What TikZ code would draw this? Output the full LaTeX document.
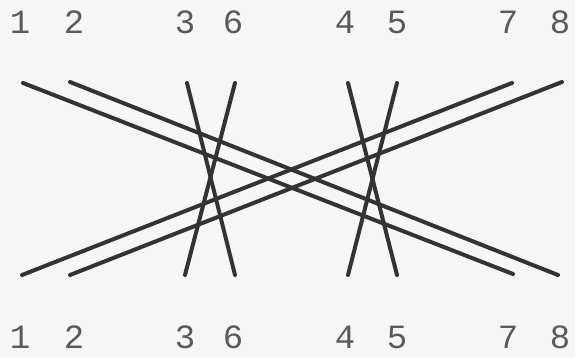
\documentclass[tikz,border=0pt]{standalone}
\usepackage{fontspec}
\setmonofont{Liberation Mono}
\usepackage{xcolor}
\usetikzlibrary{calc, positioning}

\definecolor{nhanxam}{HTML}{5A5A5A}
\definecolor{netve}{HTML}{333333}

\begin{document}
\begin{tikzpicture}[x=0.5pt, y=-0.5pt]
    \tikzset{
        nhan/.style={font=\ttfamily\fontsize{17}{17}\selectfont, text=nhanxam, inner sep=0pt},
        duong/.style={line width=2pt, draw=netve, line cap=round}
    }

    % =================================================================
    % 1. KHUNG NEN
    % =================================================================
    \fill[gray!7] (0,0) rectangle (575,358);
    \useasboundingbox (0,0) rectangle (575,358);

    % =================================================================
    % 2. CAC SO O HANG TREN VA HANG DUOI
    % =================================================================
    \foreach \so/\hoanh in {1/20, 2/74, 3/185, 6/233, 4/345, 5/397, 7/508, 8/560} {
        \node[nhan] (tren\so) at (\hoanh, 22) {\so};
        \node[nhan] (duoi\so) at (\hoanh, 337) {\so};
    }

    % =================================================================
    % 3. DIEM DAU MUT CAC DOAN THANG
    % =================================================================
    \coordinate (A1) at (23, 83);   \coordinate (A2) at (513, 274);
    \coordinate (B1) at (70, 82);   \coordinate (B2) at (558, 275);
    \coordinate (C1) at (22, 275);  \coordinate (C2) at (512, 83);
    \coordinate (D1) at (70, 275);  \coordinate (D2) at (562, 82);
    \coordinate (E1) at (187, 83);  \coordinate (E2) at (235, 275);
    \coordinate (F1) at (235, 83);  \coordinate (F2) at (185, 275);
    \coordinate (G1) at (348, 83);  \coordinate (G2) at (397, 275);
    \coordinate (H1) at (397, 83);  \coordinate (H2) at (348, 275);

    % =================================================================
    % 4. VE CAC DOAN THANG
    % =================================================================
    \draw[duong] (A1) -- (A2);
    \draw[duong] (B1) -- (B2);
    \draw[duong] (C1) -- (C2);
    \draw[duong] (D1) -- (D2);
    \draw[duong] (E1) -- (E2);
    \draw[duong] (F1) -- (F2);
    \draw[duong] (G1) -- (G2);
    \draw[duong] (H1) -- (H2);

\end{tikzpicture}
\end{document}
